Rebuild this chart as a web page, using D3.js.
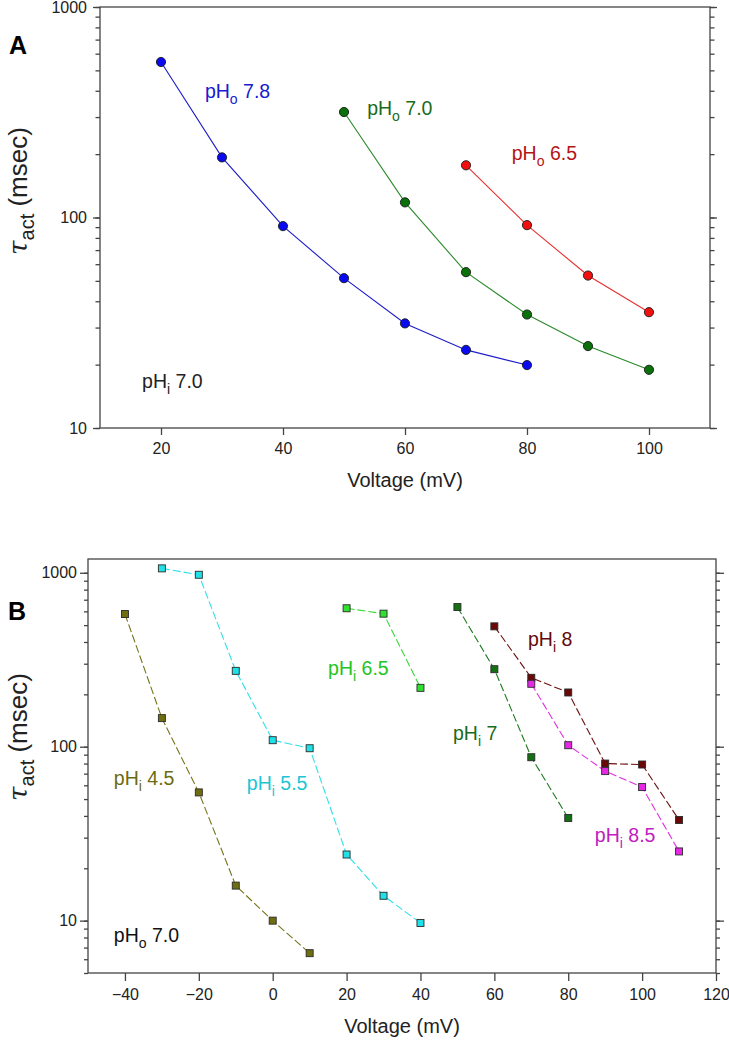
<!DOCTYPE html>
<html>
<head>
<meta charset="utf-8">
<script src="https://cdn.jsdelivr.net/npm/d3@7"></script>
<style>
  body { margin: 0; background: #fff; }
  svg { display: block; font-family: "Liberation Sans", Arial, sans-serif; }
</style>
</head>
<body>
<svg id="chart" width="729" height="1041"></svg>
<script>
// ---------- Panel A data (Voltage mV vs tau_act msec) ----------
const aVoltage78 = [20, 30, 40, 50, 60, 70, 80];
const aTau78     = [548, 193, 91, 51.5, 31.4, 23.5, 19.9];
const aVoltage70 = [50, 60, 70, 80, 90, 100];
const aTau70     = [317, 118, 55, 34.6, 24.5, 18.9];
const aVoltage65 = [70, 80, 90, 100];
const aTau65     = [177, 92, 53, 35.5];
const aXTicks = [20, 40, 60, 80, 100];
const aYTicks = [10, 100, 1000];

// ---------- Panel B data ----------
const bV45 = [-40, -30, -20, -10, 0, 10];
const bT45 = [579, 146, 54.6, 15.9, 10, 6.5];
const bV55 = [-30, -20, -10, 0, 10, 20, 30, 40];
const bT55 = [1060, 974, 273, 109, 98, 24, 13.9, 9.7];
const bV65 = [20, 30, 40];
const bT65 = [625, 582, 218];
const bV7  = [50, 60, 70, 80];
const bT7  = [635, 279, 87, 38.9];
const bV8  = [60, 70, 80, 90, 100, 110];
const bT8  = [492, 249, 205, 80, 79, 37.9];
const bV85 = [70, 80, 90, 100, 110];
const bT85 = [230, 102, 72.4, 58.6, 25];
const bXTicks = [-40, -20, 0, 20, 40, 60, 80, 100, 120];
const bYTicks = [10, 100, 1000];

const svg = d3.select("#chart");
const TXT = "#222";

function zip(xs, ys) { return xs.map((x, i) => ({x, y: ys[i]})); }

function minorTicks(lo, hi) {
  const out = [];
  for (let d = 1; d <= 10000; d *= 10)
    for (let m = 1; m < 10; m++) {
      const v = m * d;
      if (v >= lo - 1e-9 && v <= hi + 1e-9) out.push(v);
    }
  return out;
}

function subText(g, x, y, main, sub, rest, size, color, anchor) {
  const t = g.append("text").attr("x", x).attr("y", y)
    .attr("font-size", size).attr("fill", color)
    .attr("text-anchor", anchor || "start");
  t.append("tspan").text(main);
  t.append("tspan").attr("font-size", size * 0.72).attr("dy", size * 0.3).text(sub);
  t.append("tspan").attr("dy", -size * 0.3).text(rest);
  return t;
}

function drawPanel(cfg) {
  const g = svg.append("g");
  const x = d3.scaleLinear().domain(cfg.xDomain).range([cfg.left, cfg.right]);
  const y = d3.scaleLog().domain(cfg.yDomain).range([cfg.bottom, cfg.top]);

  // frame
  g.append("rect").attr("x", cfg.left).attr("y", cfg.top)
    .attr("width", cfg.right - cfg.left).attr("height", cfg.bottom - cfg.top)
    .attr("fill", "none").attr("stroke", "#444").attr("stroke-width", 1.3);

  const minors = minorTicks(cfg.yDomain[0], cfg.yDomain[1]);
  // left axis
  const left = g.append("g").attr("transform", `translate(${cfg.left},0)`)
    .call(d3.axisLeft(y).tickValues(minors).tickSize(cfg.minorLen).tickFormat(""));
  left.select(".domain").remove();
  const leftMaj = g.append("g").attr("transform", `translate(${cfg.left},0)`)
    .call(d3.axisLeft(y).tickValues(cfg.yTicks).tickSize(cfg.majorLen).tickPadding(cfg.yPad).tickFormat(d3.format("d")));
  leftMaj.select(".domain").remove();
  // right axis
  const right = g.append("g").attr("transform", `translate(${cfg.right},0)`)
    .call(d3.axisRight(y).tickValues(minors).tickSize(cfg.minorLen).tickFormat(""));
  right.select(".domain").remove();
  const rightMaj = g.append("g").attr("transform", `translate(${cfg.right},0)`)
    .call(d3.axisRight(y).tickValues(cfg.yTicks).tickSize(cfg.majorLen).tickFormat(""));
  rightMaj.select(".domain").remove();
  // bottom axis
  const bottom = g.append("g").attr("transform", `translate(0,${cfg.bottom})`)
    .call(d3.axisBottom(x).tickValues(cfg.xTicks).tickSize(cfg.majorLen).tickPadding(8).tickFormat(d3.format("d")));
  bottom.select(".domain").remove();

  g.selectAll(".tick line").attr("stroke", "#444").attr("stroke-width", 1.3);
  g.selectAll(".tick text").attr("font-size", 16).attr("fill", TXT)
    .attr("font-family", "Liberation Sans, Arial, sans-serif");

  // axis titles
  g.append("text").attr("x", (cfg.left + cfg.right) / 2).attr("y", cfg.xTitleY)
    .attr("text-anchor", "middle").attr("font-size", 20).attr("fill", TXT).text("Voltage (mV)");
  const yt = g.append("text").attr("transform", `translate(${cfg.yTitleX},${cfg.yTitleY}) rotate(-90)`)
    .attr("text-anchor", "middle").attr("font-size", 26).attr("fill", TXT);
  yt.append("tspan").attr("font-style", "italic").attr("font-family", "DejaVu Serif, serif").text("τ");
  yt.append("tspan").attr("font-size", 20).attr("dy", 7).text("act");
  yt.append("tspan").attr("dy", -7).text(" (msec)");

  // panel letter
  g.append("text").attr("x", cfg.letterX).attr("y", cfg.letterY)
    .attr("font-size", 25).attr("font-weight", "bold").attr("fill", "#000").text(cfg.letter);

  // series
  cfg.series.forEach(s => {
    const pts = zip(s.xs, s.ys);
    const line = d3.line().x(d => x(d.x)).y(d => y(d.y));
    g.append("path").attr("d", line(pts)).attr("fill", "none")
      .attr("stroke", s.line).attr("stroke-width", 1.1)
      .attr("stroke-dasharray", cfg.dash || null);
    if (cfg.marker === "circle") {
      g.selectAll(null).data(pts).enter().append("circle")
        .attr("cx", d => x(d.x)).attr("cy", d => y(d.y)).attr("r", 4.6)
        .attr("fill", s.fill).attr("stroke", "#1a1a1a").attr("stroke-width", 0.9);
    } else {
      g.selectAll(null).data(pts).enter().append("rect")
        .attr("x", d => x(d.x) - 3.5).attr("y", d => y(d.y) - 3.5)
        .attr("width", 7).attr("height", 7)
        .attr("fill", s.fill).attr("stroke", "#2a2a2a").attr("stroke-width", 0.9);
    }
  });

  // labels
  cfg.labels.forEach(l => {
    subText(g, x(l.x), y(l.y), "pH", l.sub, l.rest, 19.5, l.color);
  });
}

// Label anchors in data coordinates
const aLabels = [
  {x: 27.2, y: 370, sub: "o", rest: " 7.8", color: "#1a1ad0"},
  {x: 53.8, y: 307, sub: "o", rest: " 7.0", color: "#1a6b1a"},
  {x: 77.5, y: 188, sub: "o", rest: " 6.5", color: "#b41414"},
  {x: 16.9, y: 15.5, sub: "i", rest: " 7.0", color: "#222"}
];
const bLabels = [
  {x: -43, y: 60.5, sub: "i", rest: " 4.5", color: "#6b6b10"},
  {x: -7.0, y: 56.6, sub: "i", rest: " 5.5", color: "#22c4d4"},
  {x: 15.0, y: 258, sub: "i", rest: " 6.5", color: "#22c422"},
  {x: 48.8, y: 109.5, sub: "i", rest: " 7", color: "#1a6b1a"},
  {x: 69.1, y: 380, sub: "i", rest: " 8", color: "#640a0a"},
  {x: 87.2, y: 28.4, sub: "i", rest: " 8.5", color: "#c020c0"},
  {x: -43, y: 7.5, sub: "o", rest: " 7.0", color: "#111"}
];

drawPanel({
  left: 100, right: 710, top: 7, bottom: 428,
  xDomain: [10, 110], yDomain: [10, 1000],
  xTicks: aXTicks, yTicks: aYTicks,
  majorLen: 7, minorLen: 4.5, yPad: 6,
  xTitleY: 487, yTitleX: 27, yTitleY: 191,
  letter: "A", letterX: 9, letterY: 54,
  marker: "circle",
  series: [
    {xs: aVoltage78, ys: aTau78, line: "#1c1cc8", fill: "#0a0af0"},
    {xs: aVoltage70, ys: aTau70, line: "#2a8a2a", fill: "#0a700a"},
    {xs: aVoltage65, ys: aTau65, line: "#e83030", fill: "#f01010"}
  ],
  labels: aLabels
});

drawPanel({
  left: 88, right: 716, top: 559, bottom: 973,
  xDomain: [-50, 120], yDomain: [5, 1200],
  xTicks: bXTicks, yTicks: bYTicks,
  majorLen: 8, minorLen: 4, yPad: 3,
  xTitleY: 1033, yTitleX: 27, yTitleY: 737,
  letter: "B", letterX: 8, letterY: 620,
  marker: "square", dash: "8,3",
  series: [
    {xs: bV45, ys: bT45, line: "#74741a", fill: "#6e6e10"},
    {xs: bV55, ys: bT55, line: "#30e0e8", fill: "#20e0e8"},
    {xs: bV65, ys: bT65, line: "#38d838", fill: "#30e030"},
    {xs: bV7,  ys: bT7,  line: "#1e7a1e", fill: "#157015"},
    {xs: bV8,  ys: bT8,  line: "#6a1010", fill: "#6a0808"},
    {xs: bV85, ys: bT85, line: "#e030e0", fill: "#e628e6"}
  ],
  labels: bLabels
});
</script>
</body>
</html>
